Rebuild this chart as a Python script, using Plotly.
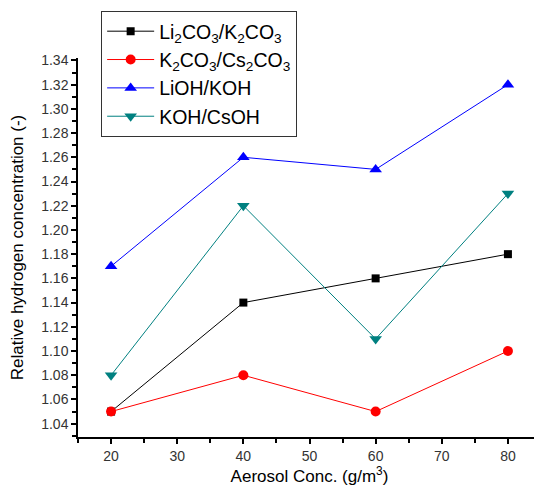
import plotly.graph_objects as go

x_vals = [20, 40, 60, 80]
li2co3_k2co3 = [1.05, 1.14, 1.16, 1.18]
k2co3_cs2co3 = [1.05, 1.08, 1.05, 1.10]
lioh_koh = [1.17, 1.26, 1.25, 1.32]
koh_csoh = [1.08, 1.22, 1.11, 1.23]

names = ["Li<sub>2</sub>CO<sub>3</sub>/K<sub>2</sub>CO<sub>3</sub>",
         "K<sub>2</sub>CO<sub>3</sub>/Cs<sub>2</sub>CO<sub>3</sub>",
         "LiOH/KOH", "KOH/CsOH"]
series = [li2co3_k2co3, k2co3_cs2co3, lioh_koh, koh_csoh]
colors = ["#000000", "#FF0000", "#0000FF", "#008080"]
symbols = ["square", "circle", "triangle-up", "triangle-down"]
sizes = [8, 10, 11, 11]

fig = go.Figure()
for n, s, c, sym, sz in zip(names, series, colors, symbols, sizes):
    fig.add_trace(go.Scatter(x=x_vals, y=s, name=n, mode="lines+markers",
                             line=dict(color=c, width=1),
                             marker=dict(symbol=sym, size=sz, color=c)))

axis_common = dict(showline=True, linecolor="black", linewidth=1.5,
                   ticks="outside", ticklen=5, tickwidth=1.5, tickcolor="black",
                   showgrid=False, zeroline=False,
                   tickfont=dict(family="Liberation Sans, Arial", size=14, color="#333"))

fig.update_layout(
    width=534, height=484,
    margin=dict(l=70, r=1, t=50, b=55),
    plot_bgcolor="white", paper_bgcolor="white",
    font=dict(family="Liberation Sans, Arial", color="black"),
    xaxis=dict(range=[15, 85], dtick=10, tick0=0,
               minor=dict(dtick=5, ticks="outside", ticklen=4, tickwidth=1.5, tickcolor="black"),
               title=dict(text="Aerosol Conc. (g/m<sup>3</sup>)", font=dict(size=17), standoff=2),
               **axis_common),
    yaxis=dict(range=[1.029, 1.342], dtick=0.02, tick0=1.0, tickformat=".2f",
               minor=dict(dtick=0.01, ticks="outside", ticklen=4, tickwidth=1.5, tickcolor="black"),
               title=dict(text="Relative hydrogen concentration (-)", font=dict(size=17), standoff=14),
               **axis_common),
    legend=dict(x=0.05, y=1.124, xanchor="left", yanchor="top",
                bordercolor="#333", borderwidth=1, bgcolor="white",
                font=dict(size=19.5, family="Liberation Sans, Arial"),
                itemwidth=47, tracegroupgap=0),
    showlegend=True,
)

fig.write_html("out.html")
